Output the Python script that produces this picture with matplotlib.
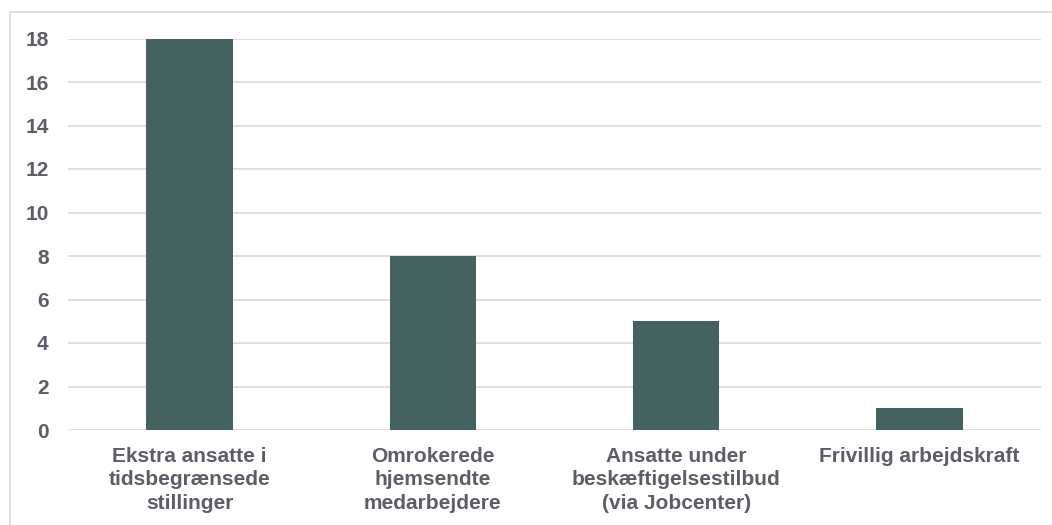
import matplotlib.pyplot as plt
from matplotlib.patches import Rectangle

categories = [
    "Ekstra ansatte i\ntidsbegrænsede\nstillinger",
    "Omrokerede\nhjemsendte\nmedarbejdere",
    "Ansatte under\nbeskæftigelsestilbud\n(via Jobcenter)",
    "Frivillig arbejdskraft",
]
values = [18, 8, 5, 1]
yticks = [0, 2, 4, 6, 8, 10, 12, 14, 16, 18]

bar_color = "#44625f"
text_color = "#5b5e66"
grid_color = "#d9d9d9"

plt.rcParams["font.family"] = ["Liberation Sans", "DejaVu Sans"]

fig = plt.figure(figsize=(10.52, 5.25), dpi=100)
# chart frame
fig.patches.append(Rectangle((10 / 1052, -0.1), 1.2, 1.1 - 12 / 525,
                             transform=fig.transFigure, fill=False,
                             edgecolor=grid_color, linewidth=1.2))

ax = fig.add_axes([68 / 1052, 1 - 430 / 525, 973 / 1052, (430 - 38.5) / 525])
x = range(len(categories))
ax.bar(x, values, width=0.355, color=bar_color, zorder=3)

ax.set_xlim(-0.5, len(categories) - 0.5)
ax.set_ylim(0, 18)
ax.set_yticks(yticks)
ax.set_xticks(list(x))
ax.set_xticklabels(categories, linespacing=1.3, va="top")
ax.yaxis.grid(True, color=grid_color, linewidth=1.2, zorder=0)
for s in ax.spines.values():
    s.set_visible(False)
ax.tick_params(axis="both", length=0, labelsize=15, labelcolor=text_color)
ax.tick_params(axis="y", pad=14)
ax.tick_params(axis="x", pad=12)
for lbl in ax.get_xticklabels() + ax.get_yticklabels():
    lbl.set_fontweight("bold")

fig.savefig("out.png", dpi=100)
